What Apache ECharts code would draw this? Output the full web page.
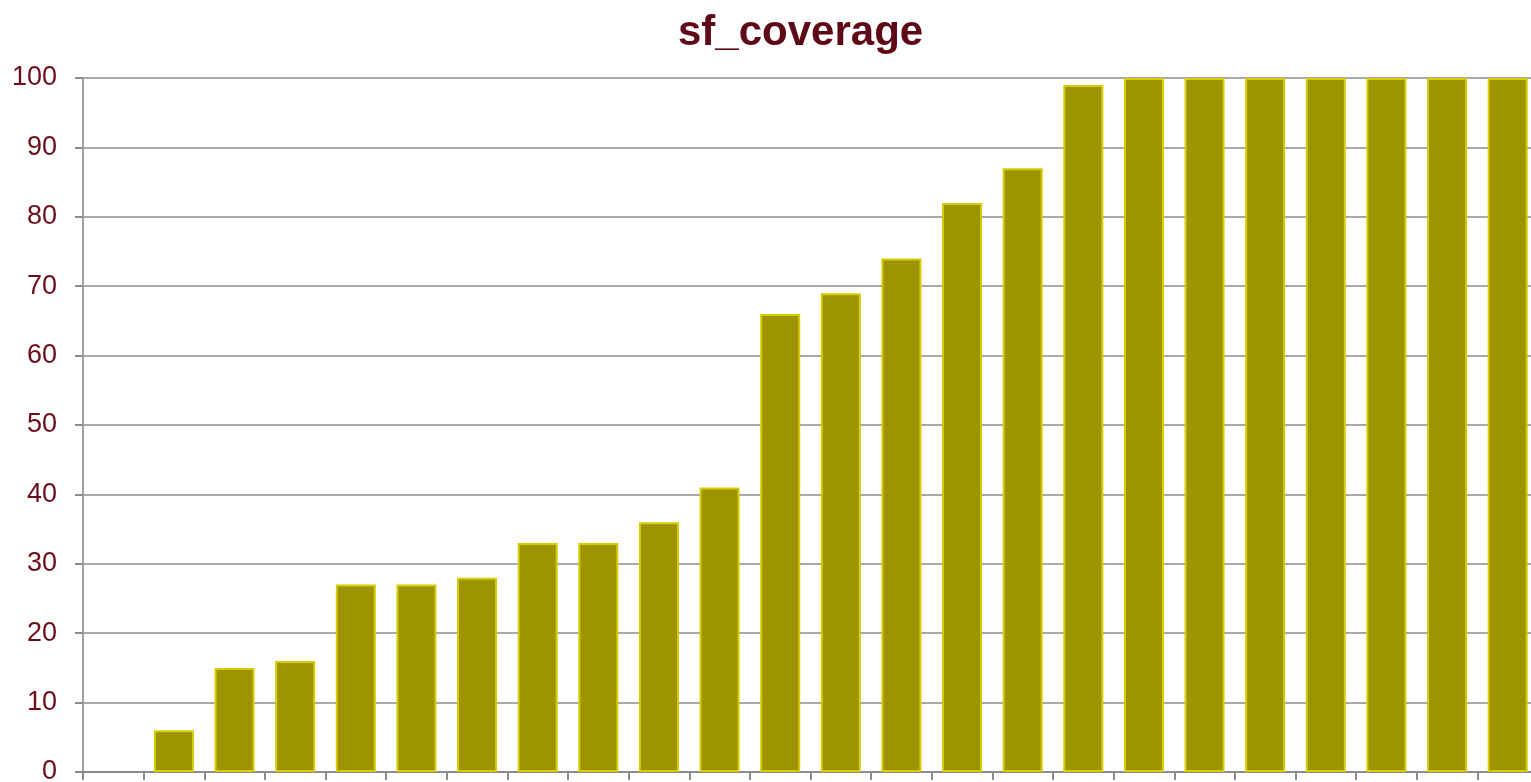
<!DOCTYPE html>
<html>
<head>
<meta charset="utf-8">
<script src="https://cdn.jsdelivr.net/npm/echarts@6/dist/echarts.min.js"></script>
<style>html,body{margin:0;padding:0;background:#fff;}#c{width:1531px;height:782px;}</style>
</head>
<body>
<div id="c"></div>
<script>
const categories = ['1','2','3','4','5','6','7','8','9','10','11','12','13','14','15','16','17','18','19','20','21','22','23','24'];
const coverage = [null,6,15,16,27,27,28,33,33,36,41,66,69,74,82,87,99,100,100,100,100,100,100,100];
const yTicks = {min:0, max:100, interval:10};

const chart = echarts.init(document.getElementById('c'), null, {renderer:'canvas'});
chart.setOption({
  animation:false,
  backgroundColor:'#ffffff',
  title:{
    text:'sf_coverage', left:673, top:7,
    textStyle:{fontFamily:'Liberation Sans, Arial, sans-serif', fontWeight:'bold', fontSize:42, color:'#5E0A16'}
  },
  grid:{left:83, top:78, right:-7, bottom:10, containLabel:false, outerBoundsMode:'none'},
  xAxis:{
    type:'category', data:categories, boundaryGap:true,
    axisLine:{show:true, lineStyle:{color:'#8c8c8c', width:2}},
    axisTick:{show:true, alignWithLabel:false, length:8, lineStyle:{color:'#8c8c8c', width:2}},
    axisLabel:{show:false},
    splitLine:{show:false}
  },
  yAxis:{
    type:'value', min:yTicks.min, max:yTicks.max, interval:yTicks.interval,
    axisLine:{show:true, lineStyle:{color:'#a0a0a0', width:2}},
    axisTick:{show:true, length:8, lineStyle:{color:'#8c8c8c', width:2}},
    axisLabel:{margin:26, fontFamily:'Liberation Sans, Arial, sans-serif', fontSize:27, color:'#6B0E1A'},
    splitLine:{show:true, lineStyle:{color:'#8c8c8c', width:1.5}}
  },
  series:[{
    type:'bar', data:coverage, barWidth:'66%',
    itemStyle:{color:'#9C9400', borderColor:'#D6CC00', borderWidth:2}
  }]
});
</script>
</body>
</html>
